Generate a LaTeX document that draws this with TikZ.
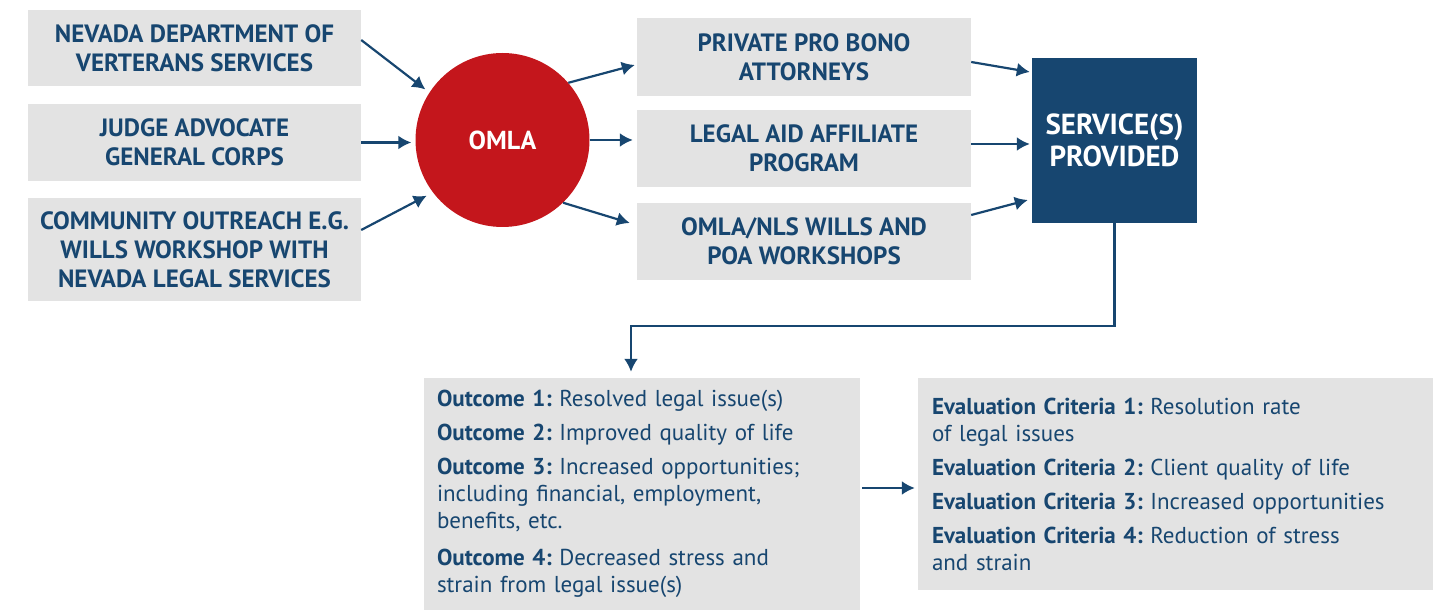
\documentclass[tikz,border=0pt]{standalone}
\usepackage{fontspec}
\setmainfont{PT Sans}
\usetikzlibrary{shapes,arrows,arrows.meta,positioning,calc}
\definecolor{navy}{HTML}{174670}
\definecolor{omlared}{HTML}{C4161C}
\definecolor{panel}{HTML}{E3E3E3}
\frenchspacing
\tikzset{
block/.style = {fill=panel, rectangle, minimum width=333pt, align=center, text=navy, inner sep=0pt, font=\fontsize{25}{29}\selectfont\bfseries},
hub/.style = {fill=omlared, circle, minimum size=174pt, inner sep=0pt, text=white, font=\fontsize{26}{30}\selectfont\bfseries},
result/.style = {fill=navy, rectangle, minimum size=165pt, inner sep=0pt, align=center, text=white, font=\fontsize{29}{32}\selectfont\bfseries},
panelbox/.style = {fill=panel, rectangle, align=left, text=navy, inner xsep=13pt, inner ysep=0pt, font=\fontsize{23}{27}\selectfont},
link/.style = {->, line width=2.2pt, draw=navy}
}

\begin{document}
\begin{tikzpicture}[x=1pt, y=1pt, >={Latex[length=13pt,width=14pt]}]
\useasboundingbox (0,0) rectangle (1444,611);
% sources
\node[block, minimum height=76pt] (nvdvs) at (194.5,563) {NEVADA DEPARTMENT OF\\VERTERANS SERVICES};
\node[block, below of=nvdvs, node distance=94.5pt, minimum height=77pt] (jag) {JUDGE ADVOCATE\\GENERAL CORPS};
\node[block, below of=jag, node distance=107pt, minimum height=103pt] (outreach) {COMMUNITY OUTREACH E.G.\\WILLS WORKSHOP WITH\\NEVADA LEGAL SERVICES};
\node[hub] (omla) at (502.5,471) {OMLA};
% providers
\node[block, minimum width=334pt, minimum height=78pt] (probono) at (804,554) {PRIVATE PRO BONO\\ATTORNEYS};
\node[block, below of=probono, node distance=91.5pt, minimum width=334pt, minimum height=77pt] (legalaid) {LEGAL AID AFFILIATE\\PROGRAM};
\node[block, below of=legalaid, node distance=93pt, minimum width=334pt, minimum height=77pt] (workshops) {OMLA/NLS WILLS AND\\POA WORKSHOPS};
\node[result] (service) at (1114.5,470.5) {SERVICE(S)\\PROVIDED};
% outcomes
\node[panelbox, text width=410pt, minimum height=232pt] (outcome) at (642,117) {%
\textbf{Outcome 1:} Resolved legal issue(s)\\[7pt]
\textbf{Outcome 2:} Improved quality of life\\[7pt]
\textbf{Outcome 3:} Increased opportunities;\\
including financial, employment,\\
benefits, etc.\\[10pt]
\textbf{Outcome 4:} Decreased stress and\\
strain from legal issue(s)};
\node[panelbox, inner xsep=14pt, text width=487pt, minimum height=212pt] (eval) at (1175.5,127) {%
\textbf{Evaluation Criteria 1:} Resolution rate\\
of legal issues\\[7pt]
\textbf{Evaluation Criteria 2:} Client quality of life\\[7pt]
\textbf{Evaluation Criteria 3:} Increased opportunities\\[7pt]
\textbf{Evaluation Criteria 4:} Reduction of stress\\
and strain};
\coordinate (bend) at (631,285);
\coordinate (mid) at ([xshift=2pt,yshift=6pt]outcome.east);
% connectors
\draw[link, shorten >=5pt] ([yshift=8pt]nvdvs.east) -- (omla.147);
\draw[link, shorten >=4pt] (jag.east) -- (jag.east -| omla.west);
\draw[link, shorten >=7pt] ([yshift=19.5pt]outreach.east) -- (omla.217);
\draw[link] (omla.41) -- ([xshift=-2pt,yshift=-8pt]probono.west);
\draw[link, shorten >=4pt] (omla.east) -- (omla.east -| legalaid.west);
\draw[link] (omla.-46) -- ([xshift=-7pt,yshift=18.5pt]workshops.west);
\draw[link] ([yshift=-5pt]probono.east) -- ([xshift=-2pt,yshift=68.5pt]service.west);
\draw[link, shorten >=2pt] ([yshift=4.5pt]legalaid.east) -- ([yshift=4.5pt]legalaid.east -| service.west);
\draw[link] ([yshift=26.5pt]workshops.east) -- ([xshift=-4pt,yshift=-59.5pt]service.west);
\draw[link, shorten >=6pt] (service.south) |- (bend) -- (bend |- outcome.north);
\draw[link, shorten >=3pt] (mid) -- (mid -| eval.west);
\end{tikzpicture}
\end{document}
